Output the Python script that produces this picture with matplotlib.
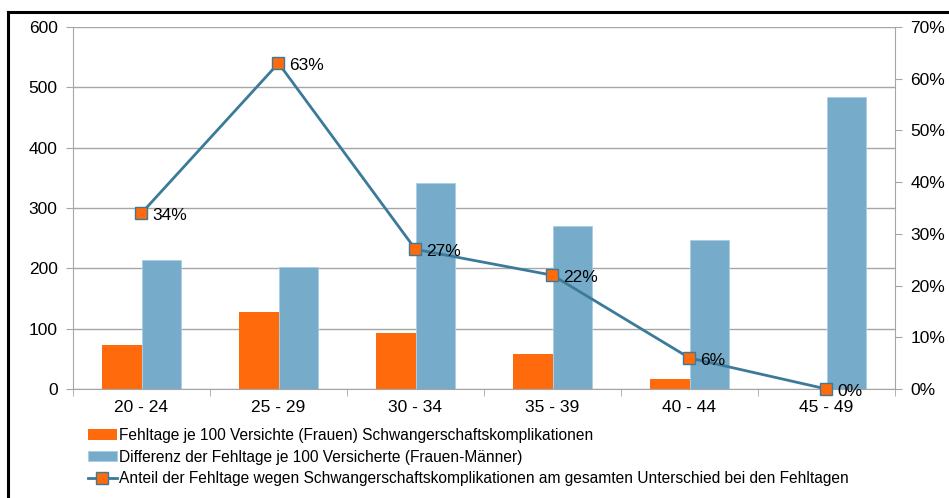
import matplotlib
matplotlib.use("Agg")
import matplotlib.pyplot as plt
import numpy as np
from matplotlib.lines import Line2D

plt.rcParams['font.family'] = ['Liberation Sans', 'DejaVu Sans']

categories = ["20 - 24", "25 - 29", "30 - 34", "35 - 39", "40 - 44", "45 - 49"]
fehltage_schwanger = [73, 127, 93, 58, 16, 0.5]
differenz = [214, 203, 342, 270, 247, 484]
anteil = [0.34, 0.63, 0.27, 0.22, 0.06, 0.00]
anteil_labels = ["34%", "63%", "27%", "22%", "6%", "0%"]
legend_labels = [
    "Fehltage je 100 Versichte (Frauen) Schwangerschaftskomplikationen",
    "Differenz der Fehltage je 100 Versicherte (Frauen-Männer)",
    "Anteil der Fehltage wegen Schwangerschaftskomplikationen am gesamten Unterschied bei den Fehltagen",
]

orange = "#FF6A0D"
blue = "#77ABCA"
line_c = "#3B7A99"
grid_c = "#A6A6A6"
fs_tick = 12.5
fs_leg = 11.2

fig = plt.figure(figsize=(9.49, 4.98), dpi=100)
ax = fig.add_axes([73/949, 1-389/498, (895-73)/949, (389-27)/498])

x = np.arange(len(categories))
w = 0.285
b1 = ax.bar(x - w/2, fehltage_schwanger, w, color=orange, zorder=2, linewidth=0)
b2 = ax.bar(x + w/2, differenz, w, color=blue, zorder=2, edgecolor="#A9CDE2", linewidth=0.6)

ax.set_xlim(-0.5, len(categories) - 0.5)
ax.set_ylim(0, 600)
ax.set_yticks(range(0, 601, 100))
ax.yaxis.grid(True, color=grid_c, linewidth=1.0, zorder=0)
ax.set_axisbelow(True)
for s in ["top", "right"]:
    ax.spines[s].set_visible(False)
for s in ["left", "bottom"]:
    ax.spines[s].set_color(grid_c)
ax.set_xticks(x)
ax.set_xticklabels(categories, fontsize=fs_tick)
ax.set_xticks(np.arange(-0.5, len(categories), 1), minor=True)
ax.tick_params(axis='x', which='major', length=0, pad=8)
ax.tick_params(axis='x', which='minor', length=5, color=grid_c)
ax.tick_params(axis='y', length=5, color=grid_c, labelsize=fs_tick, pad=6)

ax2 = ax.twinx()
ax2.set_ylim(0, 0.7)
ax2.set_yticks(np.arange(0, 0.71, 0.1))
ax2.set_yticklabels([f"{int(round(v*100))}%" for v in np.arange(0, 0.71, 0.1)])
for s in ["top", "left", "bottom"]:
    ax2.spines[s].set_visible(False)
ax2.spines["right"].set_color(grid_c)
ax2.tick_params(axis='y', length=5, color=grid_c, labelsize=fs_tick, pad=6)

ln, = ax2.plot(x, anteil, color=line_c, linewidth=2.0, marker='s', markersize=8,
               markerfacecolor=orange, markeredgecolor=line_c, markeredgewidth=1.0,
               zorder=3, clip_on=False)
for xi, yi, lab in zip(x, anteil, anteil_labels):
    ax2.annotate(lab, (xi, yi), xytext=(8, -1.5), textcoords='offset points',
                 ha='left', va='center', fontsize=fs_tick)

fig.legend([b1, b2, ln], legend_labels, loc='upper left',
           bbox_to_anchor=(88/949, 1-428/498), frameon=False, fontsize=fs_leg,
           handlelength=1.85, handleheight=0.65, handletextpad=0.12,
           labelspacing=0.42, borderaxespad=0, borderpad=0)

# frame lines (top and left) as in the reference
fig.add_artist(Line2D([8/949, 1.0], [1-12/498, 1-12/498], color='black', linewidth=2.2,
                      transform=fig.transFigure))
fig.add_artist(Line2D([8/949, 8/949], [0, 1-12/498], color='black', linewidth=2.2,
                      transform=fig.transFigure))

fig.savefig("out.png", dpi=100)
